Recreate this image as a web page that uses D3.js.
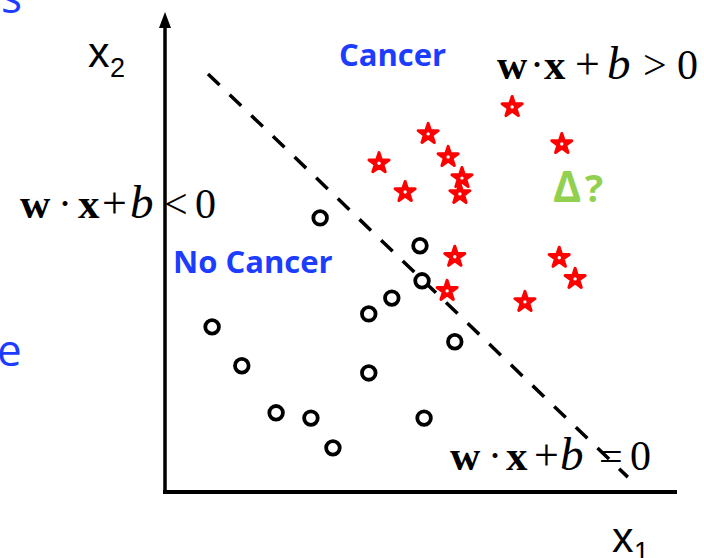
<!DOCTYPE html>
<html>
<head>
<meta charset="utf-8">
<script src="https://cdn.jsdelivr.net/npm/d3@7"></script>
<style>
  body { margin: 0; background: #fff; }
  svg { display: block; }
</style>
</head>
<body>
<div id="my_dataviz"></div>
<script>
// class "no cancer" (circles)
var noCancerX1 = [3.03, 4.98, 5.02, 4.43, 3.98, 0.92, 5.66, 1.50, 3.98, 2.17, 2.85, 5.06, 3.28];
var noCancerX2 = [5.71, 5.13, 4.40, 4.04, 3.71, 3.44, 3.13, 2.63, 2.48, 1.65, 1.54, 1.54, 0.92];

// class "cancer" (stars)
var cancerX1 = [6.78, 5.14, 4.18, 4.69, 5.53, 5.80, 5.76, 7.75, 5.66, 5.51, 7.70, 8.01, 7.03];
var cancerX2 = [8.02, 7.46, 6.85, 6.25, 6.98, 6.54, 6.21, 7.25, 4.90, 4.19, 4.88, 4.44, 3.96];

// decision boundary w.x+b=0, two end points
var boundaryX1 = [0.84, 9.04];
var boundaryX2 = [8.71, 0.31];

var blue = "#1c3cff";
var green = "#92d050";
var fontMath = "Liberation Serif";
var fontAxis = "Liberation Sans";
var fontLabel = "Open Sans";

var width = 704, height = 558;

var svg = d3.select("#my_dataviz")
  .append("svg")
    .attr("width", width)
    .attr("height", height);

// ---------------------------//
//       AXIS  AND SCALE      //
// ---------------------------//
var x = d3.scaleLinear().domain([0, 10]).range([165, 677]);
var y = d3.scaleLinear().domain([0, 10]).range([492, 12]);

// x axis (plain line)
svg.append("line")
  .attr("x1", x(0) - 2).attr("x2", x(10))
  .attr("y1", y(0)).attr("y2", y(0))
  .attr("stroke", "black").attr("stroke-width", 4);

// y axis with arrow on top
svg.append("line")
  .attr("x1", x(0)).attr("x2", x(0))
  .attr("y1", y(0) + 2).attr("y2", y(10) + 10)
  .attr("stroke", "black").attr("stroke-width", 3.5);
svg.append("path")
  .attr("d", "M" + x(0) + "," + y(10) + " L" + (x(0) - 6) + "," + (y(10) + 16) + " L" + (x(0) + 6) + "," + (y(10) + 16) + " Z")
  .attr("fill", "black");

// axis labels
var x2Label = svg.append("text")
  .attr("x", 88).attr("y", 67)
  .attr("font-family", fontAxis)
  .attr("font-size", 43)
  .text("x");
x2Label.append("tspan").attr("x", 110).attr("y", 77).attr("font-size", 27).text("2");

var x1Label = svg.append("text")
  .attr("x", 612).attr("y", 552)
  .attr("font-family", fontAxis)
  .attr("font-size", 43)
  .text("x");
x1Label.append("tspan").attr("x", 634).attr("y", 561).attr("font-size", 27).text("1");

// ---------------------------//
//       BOUNDARY             //
// ---------------------------//
svg.append("line")
  .attr("x1", x(boundaryX1[0])).attr("y1", y(boundaryX2[0]))
  .attr("x2", x(boundaryX1[1])).attr("y2", y(boundaryX2[1]))
  .attr("stroke", "black")
  .attr("stroke-width", 3.5)
  .style("stroke-dasharray", "16,14");

// ---------------------------//
//       POINTS               //
// ---------------------------//
svg.append("g")
  .selectAll("circle")
  .data(noCancerX1)
  .enter()
  .append("circle")
    .attr("cx", function(d) { return x(d); })
    .attr("cy", function(d, i) { return y(noCancerX2[i]); })
    .attr("r", 6.8)
    .attr("fill", "white")
    .attr("stroke", "black")
    .attr("stroke-width", 3.8);

var star = d3.symbol().type(d3.symbolStar).size(125);
var stars = svg.append("g")
  .selectAll("g")
  .data(cancerX1)
  .enter()
  .append("g")
    .attr("transform", function(d, i) { return "translate(" + x(d) + "," + y(cancerX2[i]) + ")"; });
stars.append("path")
  .attr("d", star)
  .attr("fill", "red")
  .attr("stroke", "red")
  .attr("stroke-width", 3)
  .attr("stroke-linejoin", "round");
stars.append("circle")
  .attr("r", 1.7)
  .attr("fill", "white");

// ---------------------------//
//       TEXTS                //
// ---------------------------//
svg.append("text")
  .attr("x", 339).attr("y", 66)
  .attr("font-family", fontLabel).attr("font-weight", 700)
  .attr("font-size", 31).attr("fill", blue)
  .text("Cancer");

svg.append("text")
  .attr("x", 173).attr("y", 273)
  .attr("font-family", fontLabel).attr("font-weight", 700)
  .attr("font-size", 31).attr("fill", blue)
  .text("No Cancer");

var unknown = svg.append("text")
  .attr("y", 202)
  .attr("font-family", fontLabel).attr("font-weight", 700)
  .attr("fill", green);
unknown.append("tspan").attr("x", 553).attr("font-size", 43).text("Δ");
unknown.append("tspan").attr("x", 585).attr("font-size", 38).text("?");

// clipped slide text on the left edge
svg.append("text")
  .attr("x", 1).attr("y", 13)
  .attr("font-family", fontLabel).attr("font-size", 44).attr("fill", blue)
  .text("s");
svg.append("text")
  .attr("x", -3).attr("y", 366)
  .attr("font-family", fontLabel).attr("font-size", 44).attr("fill", blue)
  .text("e");

// formulas: glyph, weight, style, size
function formula(x0, y0, op, offs) {
  var parts = [
    {t: "w", w: 700, s: "normal", f: 42},
    {t: "·", w: 400, s: "normal", f: 42},
    {t: "x", w: 700, s: "normal", f: 43},
    {t: "+", w: 400, s: "normal", f: 44},
    {t: "b", w: 400, s: "italic", f: 47},
    {t: op, w: 400, s: "normal", f: 42},
    {t: "0", w: 400, s: "normal", f: 42}
  ];
  var t = svg.append("text")
    .attr("y", y0)
    .attr("font-family", fontMath)
    .attr("fill", "black");
  parts.forEach(function(p, i) {
    t.append("tspan")
      .attr("x", x0 + offs[i])
      .attr("font-weight", p.w)
      .attr("font-style", p.s)
      .attr("font-size", p.f)
      .text(p.t);
  });
}

formula(497, 79, ">", [0, 33, 47, 78, 110, 146, 180]);
formula(20, 218, "<", [0, 38, 58, 82, 110, 144, 175]);
formula(450, 470, "=", [0, 38, 56, 84, 110, 149, 180]);
</script>
</body>
</html>
